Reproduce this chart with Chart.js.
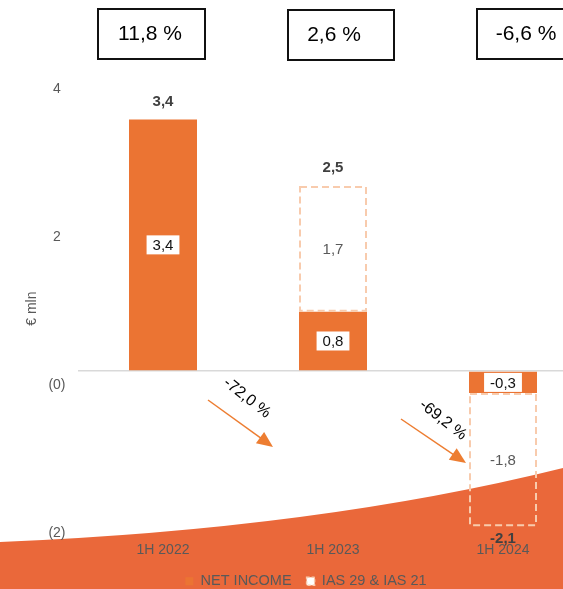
<!DOCTYPE html>
<html>
<head>
<meta charset="utf-8">
<script src="https://cdn.jsdelivr.net/npm/chart.js@4/dist/chart.umd.min.js"></script>
<style>
    html, body { margin: 0; padding: 0; background: #fff; overflow: hidden; }
    #wrap { width: 563px; height: 589px; overflow: hidden; }
</style>
</head>
<body>
<div id="wrap"><canvas id="netIncomeChart" width="600" height="589"></canvas></div>
<script>
// Data
const periods = ['1H 2022', '1H 2023', '1H 2024'];
const netIncome = [3.4, 0.8, -0.3];
const iasEffect = [0, 1.7, -1.8];
const margins = ['11,8 %', '2,6 %', '-6,6 %'];
const changes = ['-72,0 %', '-69,2 %'];
const yTicks = [-2, 0, 2, 4];

const ORANGE = '#EB7433';
const BG_ORANGE = '#EA683A';
const PEACH = '#F8CBAD';
const GREY = '#595959';
const FONT = "'Liberation Sans', Arial, sans-serif";

const fmt = v => v.toFixed(1).replace('.', ',');

// Orange swoosh behind the bottom of the chart
const backgroundPlugin = {
    id: 'swoosh',
    beforeDraw(chart) {
        const ctx = chart.ctx;
        ctx.save();
        ctx.fillStyle = '#fff';
        ctx.fillRect(0, 0, chart.width, chart.height);
        ctx.beginPath();
        ctx.moveTo(0, 542);
        ctx.quadraticCurveTo(318, 529, 563, 468);
        ctx.lineTo(chart.width, 460);
        ctx.lineTo(chart.width, chart.height);
        ctx.lineTo(0, chart.height);
        ctx.closePath();
        ctx.fillStyle = BG_ORANGE;
        ctx.fill();
        ctx.restore();
    }
};

// Dashed IAS boxes and value labels
const labelPlugin = {
    id: 'valueLabels',
    afterDatasetsDraw(chart) {
        const ctx = chart.ctx;
        const metaNI = chart.getDatasetMeta(0);
        const metaIAS = chart.getDatasetMeta(1);
        ctx.save();

        // dashed boxes
        metaIAS.data.forEach((bar, i) => {
            if (!iasEffect[i]) return;
            const top = Math.min(bar.y, bar.base);
            const h = Math.abs(bar.base - bar.y);
            ctx.setLineDash([7, 4]);
            ctx.lineWidth = 2;
            ctx.strokeStyle = PEACH;
            ctx.strokeRect(bar.x - bar.width / 2 + 1, top + 1, bar.width - 2, h - 2);
            ctx.setLineDash([]);
            ctx.fillStyle = GREY;
            ctx.font = '15px ' + FONT;
            ctx.textAlign = 'center';
            ctx.textBaseline = 'middle';
            ctx.fillText(fmt(iasEffect[i]), bar.x, top + h / 2 + 1);
        });

        // net income labels in white boxes
        metaNI.data.forEach((bar, i) => {
            const mid = (bar.y + bar.base) / 2;
            ctx.font = '15px ' + FONT;
            const txt = fmt(netIncome[i]);
            const w = ctx.measureText(txt).width + 12;
            ctx.fillStyle = '#fff';
            ctx.fillRect(bar.x - w / 2, mid - 9.5, w, 19);
            ctx.fillStyle = '#111';
            ctx.textAlign = 'center';
            ctx.textBaseline = 'middle';
            ctx.fillText(txt, bar.x, mid + 1);
        });

        // totals
        const yScale = chart.scales.y;
        periods.forEach((p, i) => {
            const total = netIncome[i] + iasEffect[i];
            const x = metaNI.data[i].x;
            const y = yScale.getPixelForValue(total);
            ctx.font = 'bold 15px ' + FONT;
            ctx.fillStyle = '#404040';
            ctx.textAlign = 'center';
            ctx.textBaseline = 'middle';
            ctx.fillText(fmt(total), x, total >= 0 ? y - 18 : y + 13);
        });
        ctx.restore();
    },
    afterDraw(chart) {
        const ctx = chart.ctx;
        const xs = chart.scales.x;
        ctx.save();

        // margin boxes at the top
        const boxes = [[98, 9, 107, 50, 150], [288, 10, 106, 50, 334], [477, 9, 107, 50, 526]];
        margins.forEach((m, i) => {
            const [bx, by, bw, bh, tx] = boxes[i];
            ctx.lineWidth = 2;
            ctx.strokeStyle = '#111';
            ctx.strokeRect(bx, by, bw, bh);
            ctx.fillStyle = '#000';
            ctx.font = '21px ' + FONT;
            ctx.textAlign = 'center';
            ctx.textBaseline = 'middle';
            ctx.fillText(m, tx, by + bh / 2);
        });

        // change arrows between periods
        const arrows = [[-40, 400, 25, 447, 247, 398], [-17, 419, 48, 463, 443, 420]];
        changes.forEach((c, i) => {
            const mid = xs.getPixelForValue(i + 0.5);
            const [x0, y0, x1, y1, lx, ly] = arrows[i];
            const sx = mid + x0, ex = mid + x1;
            const ang = Math.atan2(y1 - y0, ex - sx);
            ctx.strokeStyle = '#ED7D31';
            ctx.fillStyle = '#ED7D31';
            ctx.lineWidth = 1.5;
            ctx.beginPath();
            ctx.moveTo(sx, y0);
            ctx.lineTo(ex - 12 * Math.cos(ang), y1 - 12 * Math.sin(ang));
            ctx.stroke();
            ctx.beginPath();
            ctx.moveTo(ex, y1);
            ctx.lineTo(ex - 16 * Math.cos(ang) + 7 * Math.sin(ang), y1 - 16 * Math.sin(ang) - 7 * Math.cos(ang));
            ctx.lineTo(ex - 16 * Math.cos(ang) - 7 * Math.sin(ang), y1 - 16 * Math.sin(ang) + 7 * Math.cos(ang));
            ctx.closePath();
            ctx.fill();

            ctx.save();
            ctx.translate(lx, ly);
            ctx.rotate(38 * Math.PI / 180);
            ctx.fillStyle = '#000';
            ctx.font = '16px ' + FONT;
            ctx.textAlign = 'center';
            ctx.textBaseline = 'middle';
            ctx.fillText(c, 0, 0);
            ctx.restore();
        });
        ctx.restore();
    }
};

new Chart(document.getElementById('netIncomeChart'), {
    type: 'bar',
    data: {
        labels: periods,
        datasets: [
            {
                label: 'NET INCOME',
                data: netIncome,
                backgroundColor: ORANGE,
                borderWidth: 0,
                barPercentage: 0.4,
                categoryPercentage: 1
            },
            {
                label: 'IAS 29 & IAS 21',
                data: iasEffect,
                backgroundColor: 'rgba(0,0,0,0)',
                borderWidth: 0,
                barPercentage: 0.4,
                categoryPercentage: 1
            }
        ]
    },
    options: {
        responsive: false,
        animation: false,
        devicePixelRatio: 1,
        layout: { padding: { top: 53, right: 12, bottom: -9.5, left: 24 } },
        scales: {
            x: {
                stacked: true,
                grid: { display: false, drawTicks: false },
                border: { display: false },
                ticks: { color: GREY, font: { size: 14, family: FONT }, padding: 1, maxRotation: 0 },
                afterFit: s => { s.height = 18; }
            },
            y: {
                stacked: true,
                min: -2.3,
                max: 4.3,
                afterBuildTicks: s => { s.ticks = yTicks.map(v => ({ value: v })); },
                afterFit: s => { s.width = 54; },
                border: { display: false },
                grid: {
                    drawTicks: false,
                    lineWidth: 1.5,
                    color: c => (c.tick && c.tick.value === 0 ? '#D9D9D9' : 'rgba(0,0,0,0)')
                },
                ticks: {
                    color: GREY,
                    font: { size: 14, family: FONT },
                    padding: 12.5,
                    crossAlign: 'center',
                    labelOffset: 14,
                    callback: v => (v <= 0 ? '(' + Math.abs(v) + ')' : String(v))
                },
                title: {
                    display: true,
                    text: '€ mln\u00a0\u00a0\u00a0\u00a0\u00a0\u00a0',
                    color: GREY,
                    font: { size: 14, family: FONT },
                    padding: { top: 0, bottom: 0 }
                }
            }
        },
        plugins: {
            legend: {
                position: 'bottom',
                labels: {
                    color: GREY,
                    font: { size: 14.5, family: FONT },
                    boxWidth: 8,
                    boxHeight: 8,
                    padding: 15,
                    generateLabels: chart => chart.data.datasets.map((ds, i) => ({
                        text: ds.label,
                        fillStyle: i === 0 ? ORANGE : '#fff',
                        strokeStyle: i === 0 ? ORANGE : PEACH,
                        lineWidth: i === 0 ? 0 : 1.5,
                        lineDash: i === 0 ? [] : [3, 2],
                        fontColor: GREY,
                        datasetIndex: i
                    }))
                }
            },
            tooltip: { enabled: false }
        }
    },
    plugins: [backgroundPlugin, labelPlugin]
});
</script>
</body>
</html>
